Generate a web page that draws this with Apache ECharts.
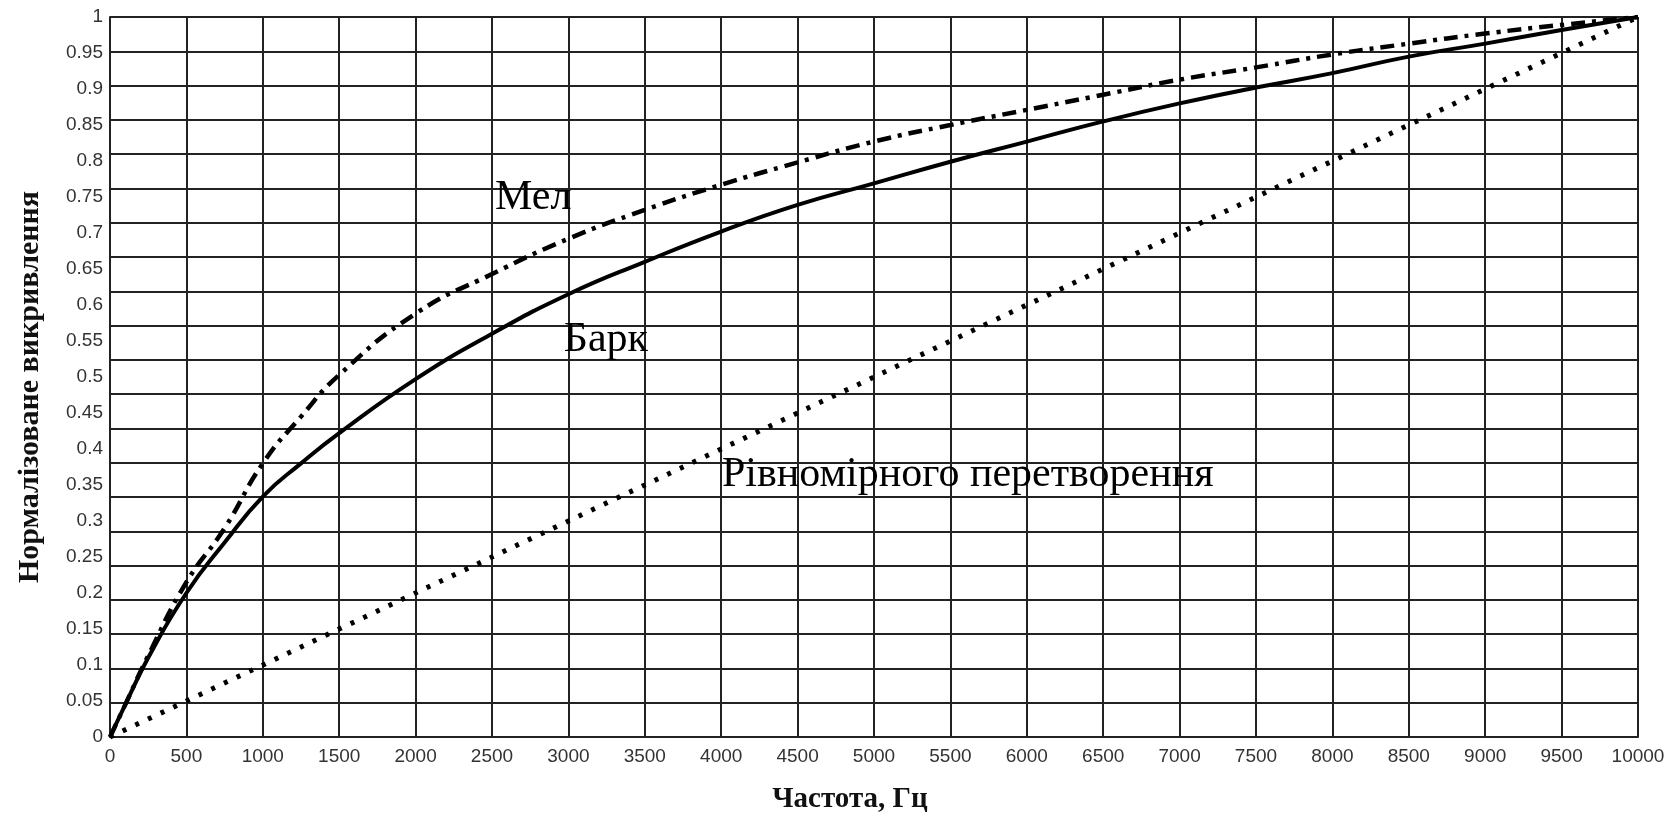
<!DOCTYPE html>
<html>
<head>
<meta charset="utf-8">
<script src="https://cdn.jsdelivr.net/npm/echarts@6/dist/echarts.min.js"></script>
<style>
html,body{margin:0;padding:0;background:#fff;}
#chart{width:1675px;height:820px;}
</style>
</head>
<body>
<div id="chart"></div>
<script>
// Frequencies (Hz)
var freq = [0, 100, 250, 500, 750, 1000, 1250, 1500, 2000, 2500, 3000, 3500, 4000, 4500, 5000, 5500, 6000, 6500, 7000, 7500, 8000, 8500, 9000, 9500, 10000];
// Bark curve (normalized)
var bark = [0, 0.045, 0.11, 0.2, 0.27, 0.334, 0.38, 0.422, 0.497, 0.56, 0.615, 0.66, 0.702, 0.739, 0.769, 0.799, 0.827, 0.855, 0.88, 0.902, 0.922, 0.945, 0.963, 0.982, 1];
// Mel curve (normalized)
var mel = [0, 0.045, 0.113, 0.215, 0.29, 0.38, 0.445, 0.503, 0.588, 0.643, 0.692, 0.732, 0.767, 0.798, 0.827, 0.85, 0.871, 0.892, 0.913, 0.93, 0.948, 0.963, 0.977, 0.989, 1];
// Uniform transform
var uniFreq = [0, 1000, 2000, 3000, 4000, 5000, 6000, 7000, 8000, 9000, 10000];
var uniform = [0, 0.1, 0.2, 0.3, 0.4, 0.5, 0.6, 0.7, 0.8, 0.9, 1];
// Curve annotations (data coordinates)
var annoText = ['Мел', 'Барк', 'Рівномірного перетворення'];
var annoX = [2520, 2970, 4005];
var annoY = [0.749, 0.551, 0.364];

var xTitle = 'Частота, Гц';
var yTitle = 'Нормалізоване викривлення';

function pairs(xs, ys) { return xs.map(function (x, i) { return [x, ys[i]]; }); }

var chart = echarts.init(document.getElementById('chart'), null, { renderer: 'canvas' });
var tickFont = "'Liberation Sans', Arial, sans-serif";
var option = {
  backgroundColor: '#fff',
  animation: false,
  grid: { left: 110, right: 37, top: 17, bottom: 83, containLabel: false },
  xAxis: {
    type: 'value', min: 0, max: 10000, interval: 500,
    axisLine: { show: true, lineStyle: { color: '#222', width: 2 } },
    axisTick: { show: false },
    axisLabel: { color: '#333', fontFamily: tickFont, fontSize: 19, margin: 10,
      formatter: function (v) { return String(v); } },
    splitLine: { show: true, lineStyle: { color: '#222', width: 2 } }
  },
  yAxis: [
    {
      type: 'value', min: 0, max: 1, interval: 0.05,
      axisLine: { show: true, lineStyle: { color: '#222', width: 2 } },
      axisTick: { show: false },
      axisLabel: { color: '#333', fontFamily: tickFont, fontSize: 19, margin: 7,
        formatter: function (v) { return String(Math.round(v * 100) / 100); } },
      splitLine: { show: false }
    },
    {
      type: 'value', min: 0, max: 1.05, interval: 0.05, position: 'left',
      axisLine: { show: false }, axisTick: { show: false }, axisLabel: { show: false },
      splitLine: { show: true, lineStyle: { color: '#222', width: 2 } }
    }
  ],
  series: [
    {
      name: 'Барк', type: 'line', data: pairs(freq, bark), smooth: 0.5,
      symbol: 'none', lineStyle: { color: '#000', width: 4 }, z: 5
    },
    {
      name: 'Мел', type: 'line', data: pairs(freq, mel), smooth: 0.5,
      symbol: 'none', lineStyle: { color: '#000', width: 4.5, type: [14, 7, 4, 7], cap: 'butt' }, z: 5
    },
    {
      name: 'Рівномірного перетворення', type: 'line', data: pairs(uniFreq, uniform),
      symbol: 'none', lineStyle: { color: '#000', width: 5, type: [4, 10], cap: 'butt' }, z: 5
    }
  ]
};
chart.setOption(option);

var graphics = [];
annoText.forEach(function (t, i) {
  var p = chart.convertToPixel({ xAxisIndex: 0, yAxisIndex: 0 }, [annoX[i], annoY[i]]);
  graphics.push({
    type: 'text', x: p[0], y: p[1], z: 10,
    style: { text: t, fill: '#000', font: "42px 'Liberation Serif', 'Times New Roman', serif", textAlign: 'left', textVerticalAlign: 'middle' }
  });
});
graphics.push({
  type: 'text', x: 850, y: 800, z: 10,
  style: { text: xTitle, fill: '#111', font: "bold 29px 'Liberation Serif', 'Times New Roman', serif", textAlign: 'center', textVerticalAlign: 'middle' }
});
graphics.push({
  type: 'text', x: 30, y: 387, rotation: Math.PI / 2, z: 10,
  style: { text: yTitle, fill: '#111', font: "bold 30px 'Liberation Serif', 'Times New Roman', serif", textAlign: 'center', textVerticalAlign: 'middle' }
});
chart.setOption({ graphic: graphics });
</script>
</body>
</html>
